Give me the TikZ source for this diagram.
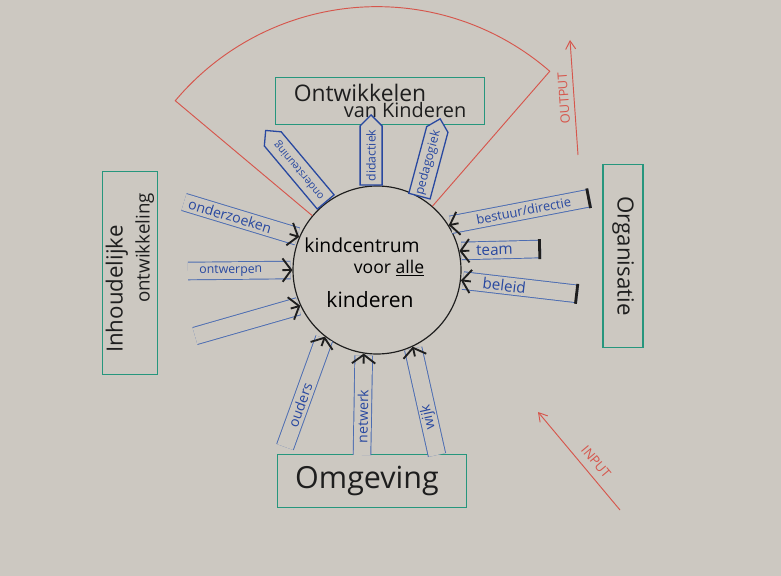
\documentclass[tikz,border=0pt]{standalone}
\usepackage{fontspec}
\setmainfont{Open Sans}
\usepackage{tikz}
\usetikzlibrary{shapes.symbols,arrows.meta,calc,positioning}

\definecolor{paper}{RGB}{204,200,193}
\definecolor{boxteal}{RGB}{38,150,125}
\definecolor{penblue}{RGB}{40,72,160}
\definecolor{bandblue}{RGB}{75,108,178}
\definecolor{inkblack}{RGB}{30,30,30}
\definecolor{redpen}{RGB}{214,86,76}

\begin{document}
\begin{tikzpicture}[
    x=0.3mm, y=-0.3mm,
    topic/.style={rectangle, draw=boxteal, line width=1.5pt, inner sep=2pt, text=inkblack},
    pencil/.style={signal, signal to=east, draw=penblue, fill=paper, line width=1.1pt, minimum height=6.6mm, inner sep=1pt, text=penblue, font=\fontsize{10.5}{12}\selectfont, anchor=west},
    band/.style={draw=bandblue, line width=0.8pt, double=paper, double distance=5mm, shorten >=0.6mm},
    lbl/.style={text=penblue, font=\fontsize{12}{14}\selectfont, inner sep=1pt},
    chev/.style={-{Straight Barb[length=2.6mm, width=7mm]}, draw=inkblack, line width=1.6pt},
    endbar/.style={-{Bar[width=6mm]}, draw=inkblack, line width=2.4pt},
    redline/.style={draw=redpen, line width=0.8pt},
    redarrow/.style={redline, -{Straight Barb[length=2.5mm, width=3mm]}},
    redlbl/.style={text=redpen, font=\fontsize{11}{13}\selectfont}
]

% Paper
\fill[paper] (0,0) rectangle (781,576);
\useasboundingbox (0,0) rectangle (781,576);

% Centre
\node[circle, draw=inkblack, line width=1pt, minimum size=50.4mm, inner sep=0pt] (centrum) at (377,270) {};
\node[font=\fontsize{16.5}{20}\selectfont] (kc1) at (362,245) {kindcentrum};
\node[font=\fontsize{15}{18}\selectfont] (kc2) at (389,268) {voor \underline{alle}};
\node[font=\fontsize{18}{22}\selectfont] (kc3) at (370,300) {kinderen};

% Output fan
\draw[redline] (centrum.140) -- ([shift={(140:79mm)}]centrum.center) arc[start angle=140, end angle=49, radius=79mm] -- (centrum.49);

% Topics
\node[topic, minimum width=62.7mm, minimum height=14.1mm, align=left, font=\fontsize{19.5}{23}\selectfont] (ontw) at (380,101) {Ontwikkelen\\[-9pt]\hspace*{15mm}{\fontsize{17}{20}\selectfont van Kinderen}};
\node[topic, rotate=90, minimum width=60.9mm, minimum height=16.5mm, align=left, font=\fontsize{19}{23}\selectfont] (inhoud) at (130,273) {Inhoudelijke\\\hspace*{15mm}{\fontsize{16}{19}\selectfont ontwikkeling}};
\node[topic, rotate=-90, minimum width=54.9mm, minimum height=12mm, font=\fontsize{19}{23}\selectfont] (organ) at (623,256) {Organisatie};
\node[topic, minimum width=56.7mm, minimum height=15.9mm, font=\fontsize{26}{30}\selectfont] (omgev) at (372,481) {Omgeving\hspace*{3mm}};

% Output pencils
\node[pencil, rotate=130, minimum width=28mm, font=\fontsize{9}{10}\selectfont] (onderst) at (centrum.127) {ondersteuning};
\node[pencil, rotate=90, minimum width=21mm] (didact) at (centrum.94) {didactiek};
\node[pencil, rotate=75, minimum width=24mm] (pedag) at (centrum.60) {pedagogiek};

% Input left
\coordinate (onderz-out) at (184,202);
\coordinate (ontwerp-out) at (188,271);
\coordinate (links-out) at (195,336);
\draw[band] (onderz-out) -- (centrum.157) node[lbl, pos=0.4, sloped] {onderzoeken};
\draw[band] (ontwerp-out) -- (centrum.180) node[lbl, pos=0.41, sloped, font=\fontsize{10.5}{12}\selectfont] {ontwerpen};
\draw[band] (links-out) -- (centrum.205);
\draw[chev] ($(centrum.157)!3mm!(onderz-out)$) -- (centrum.157);
\draw[chev] ($(centrum.180)!3mm!(ontwerp-out)$) -- (centrum.180);
\draw[chev] ($(centrum.205)!3mm!(links-out)$) -- (centrum.205);

% Input right
\coordinate (bestuur-out) at (590,198);
\coordinate (team-out) at (541,249);
\coordinate (beleid-out) at (578,294);
\draw[band] (bestuur-out) -- (centrum.32) node[lbl, pos=0.47, sloped, font=\fontsize{11}{13}\selectfont] {bestuur/directie};
\draw[band] (team-out) -- (centrum.13) node[lbl, pos=0.57, sloped, font=\fontsize{13}{15}\selectfont] {team};
\draw[band] (beleid-out) -- (centrum.353) node[lbl, pos=0.63, sloped, font=\fontsize{13}{15}\selectfont] {beleid};
\draw[chev] ($(centrum.32)!3mm!(bestuur-out)$) -- (centrum.32);
\draw[chev] ($(centrum.13)!3mm!(team-out)$) -- (centrum.13);
\draw[chev] ($(centrum.353)!3mm!(beleid-out)$) -- (centrum.353);
\draw[endbar] ($(bestuur-out)!0.5mm!(centrum.32)$) -- (bestuur-out);
\draw[endbar] ($(team-out)!0.5mm!(centrum.13)$) -- (team-out);
\draw[endbar] ($(beleid-out)!0.5mm!(centrum.353)$) -- (beleid-out);

% Input bottom
\coordinate (ouders-out) at (285,447);
\coordinate (netwerk-out) at (362,455);
\coordinate (wijk-out) at (437,455);
\draw[band] (ouders-out) -- (centrum.232) node[lbl, pos=0.38, sloped] {ouders};
\draw[band] (netwerk-out) -- (centrum.261) node[lbl, pos=0.38, sloped] {netwerk};
\draw[band] (wijk-out) -- (centrum.295) node[lbl, pos=0.35, sloped, allow upside down] {wijk};
\draw[chev] ($(centrum.232)!3mm!(ouders-out)$) -- (centrum.232);
\draw[chev] ($(centrum.261)!3mm!(netwerk-out)$) -- (centrum.261);
\draw[chev] ($(centrum.295)!3mm!(wijk-out)$) -- (centrum.295);

% Output / input arrows
\coordinate (output-a) at (578,155);
\coordinate (output-b) at (570,40);
\coordinate (input-a) at (620,510);
\coordinate (input-b) at (538,412);
\draw[redarrow] (output-a) -- (output-b) node[redlbl, midway, sloped, allow upside down, above=1pt] {OUTPUT};
\draw[redarrow] (input-a) -- (input-b) node[redlbl, pos=0.41, sloped, above=3pt] {INPUT};

\end{tikzpicture}
\end{document}
